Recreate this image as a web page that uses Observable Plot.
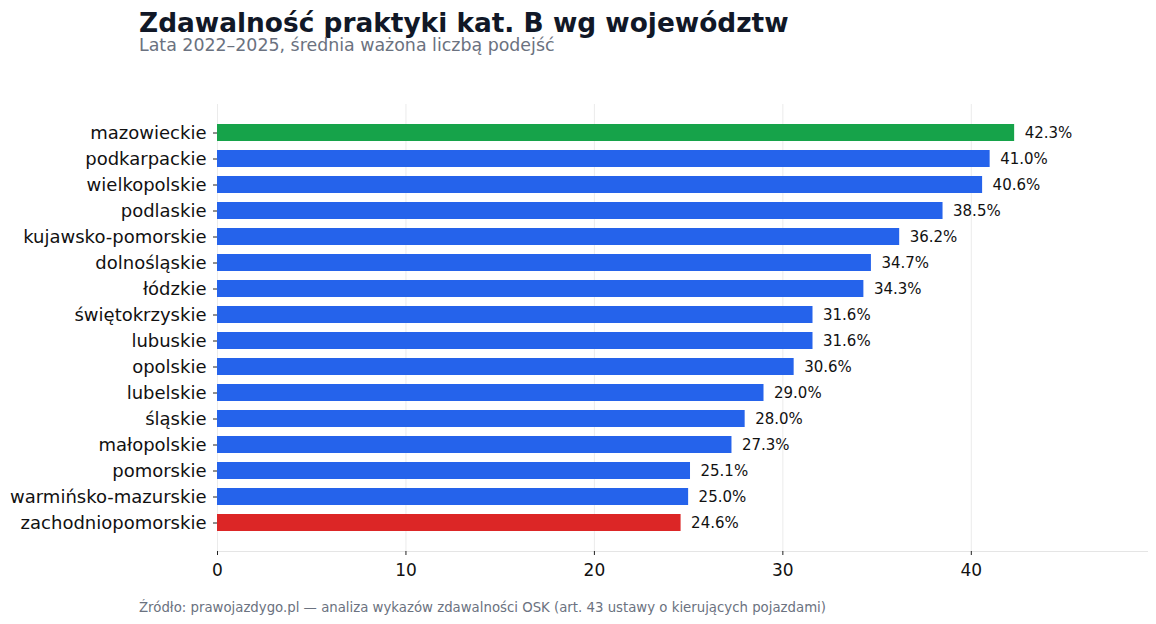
<!DOCTYPE html>
<html>
<head>
<meta charset="utf-8">
<script src="https://cdn.jsdelivr.net/npm/d3@7"></script>
<script src="https://cdn.jsdelivr.net/npm/@observablehq/plot@0.6"></script>
<style>
  html, body { margin: 0; padding: 0; background: #fff; }
  #wrap { position: relative; width: 1156px; height: 624px; font-family: "DejaVu Sans", sans-serif; }
  .title { position: absolute; left: 139px; top: 10px; font-size: 26.4px; line-height: 26px; font-weight: bold; color: #111827; white-space: nowrap; }
  .subtitle { position: absolute; left: 139px; top: 37px; font-size: 17.4px; line-height: 17px; color: #6b7280; white-space: nowrap; }
  #chart { position: absolute; left: 0; top: 60px; }
  .footer { position: absolute; left: 139px; top: 599px; font-size: 13.3px; line-height: 18px; color: #6b7280; white-space: nowrap; }
</style>
</head>
<body>
<div id="wrap">
  <div class="title">Zdawalność praktyki kat. B wg województw</div>
  <div class="subtitle">Lata 2022–2025, średnia ważona liczbą podejść</div>
  <div id="chart"></div>
  <div class="footer">Źródło: prawojazdygo.pl — analiza wykazów zdawalności OSK (art. 43 ustawy o kierujących pojazdami)</div>
</div>
<script>
const regions = ["mazowieckie","podkarpackie","wielkopolskie","podlaskie","kujawsko-pomorskie","dolnośląskie","łódzkie","świętokrzyskie","lubuskie","opolskie","lubelskie","śląskie","małopolskie","pomorskie","warmińsko-mazurskie","zachodniopomorskie"];
const passRates = [42.3,41.0,40.6,38.5,36.2,34.7,34.3,31.6,31.6,30.6,29.0,28.0,27.3,25.1,25.0,24.6];
const xTicks = [0,10,20,30,40];

const best = regions[0], worst = regions[regions.length - 1];
const data = regions.map((r, i) => ({region: r, value: passRates[i],
  group: r === best ? "best" : r === worst ? "worst" : "other"}));

const chart = Plot.plot({
  width: 1156,
  height: 530,
  marginTop: 44,
  marginBottom: 39,
  marginLeft: 217,
  marginRight: 9,
  style: {fontFamily: "DejaVu Sans, sans-serif", background: "transparent"},
  x: {domain: [0, 49.35], ticks: xTicks, label: null},
  y: {domain: regions, paddingInner: 0.35, paddingOuter: 0.77, label: null},
  color: {domain: ["best","other","worst"], range: ["#16a34a","#2563eb","#dc2626"]},
  marks: [
    Plot.gridX(xTicks, {stroke: "#ebebeb", strokeOpacity: 1, strokeWidth: 1}),
    Plot.frame({anchor: "bottom", stroke: "#e5e5e5", strokeOpacity: 1}),
    Plot.barX(data, {x: "value", y: "region", fill: "group"}),
    Plot.text(data, {x: "value", y: "region", text: d => d.value.toFixed(1) + "%",
      textAnchor: "start", dx: 10, fontSize: 15, fill: "#111"}),
    Plot.axisX(xTicks, {tickSize: 4, tickPadding: 8, fontSize: 17, stroke: "#222", fill: "#111", label: null}),
    Plot.axisY({tickSize: 4, tickPadding: 7, fontSize: 18, stroke: "#222", fill: "#111", label: null})
  ]
});
document.getElementById("chart").appendChild(chart);
</script>
</body>
</html>
